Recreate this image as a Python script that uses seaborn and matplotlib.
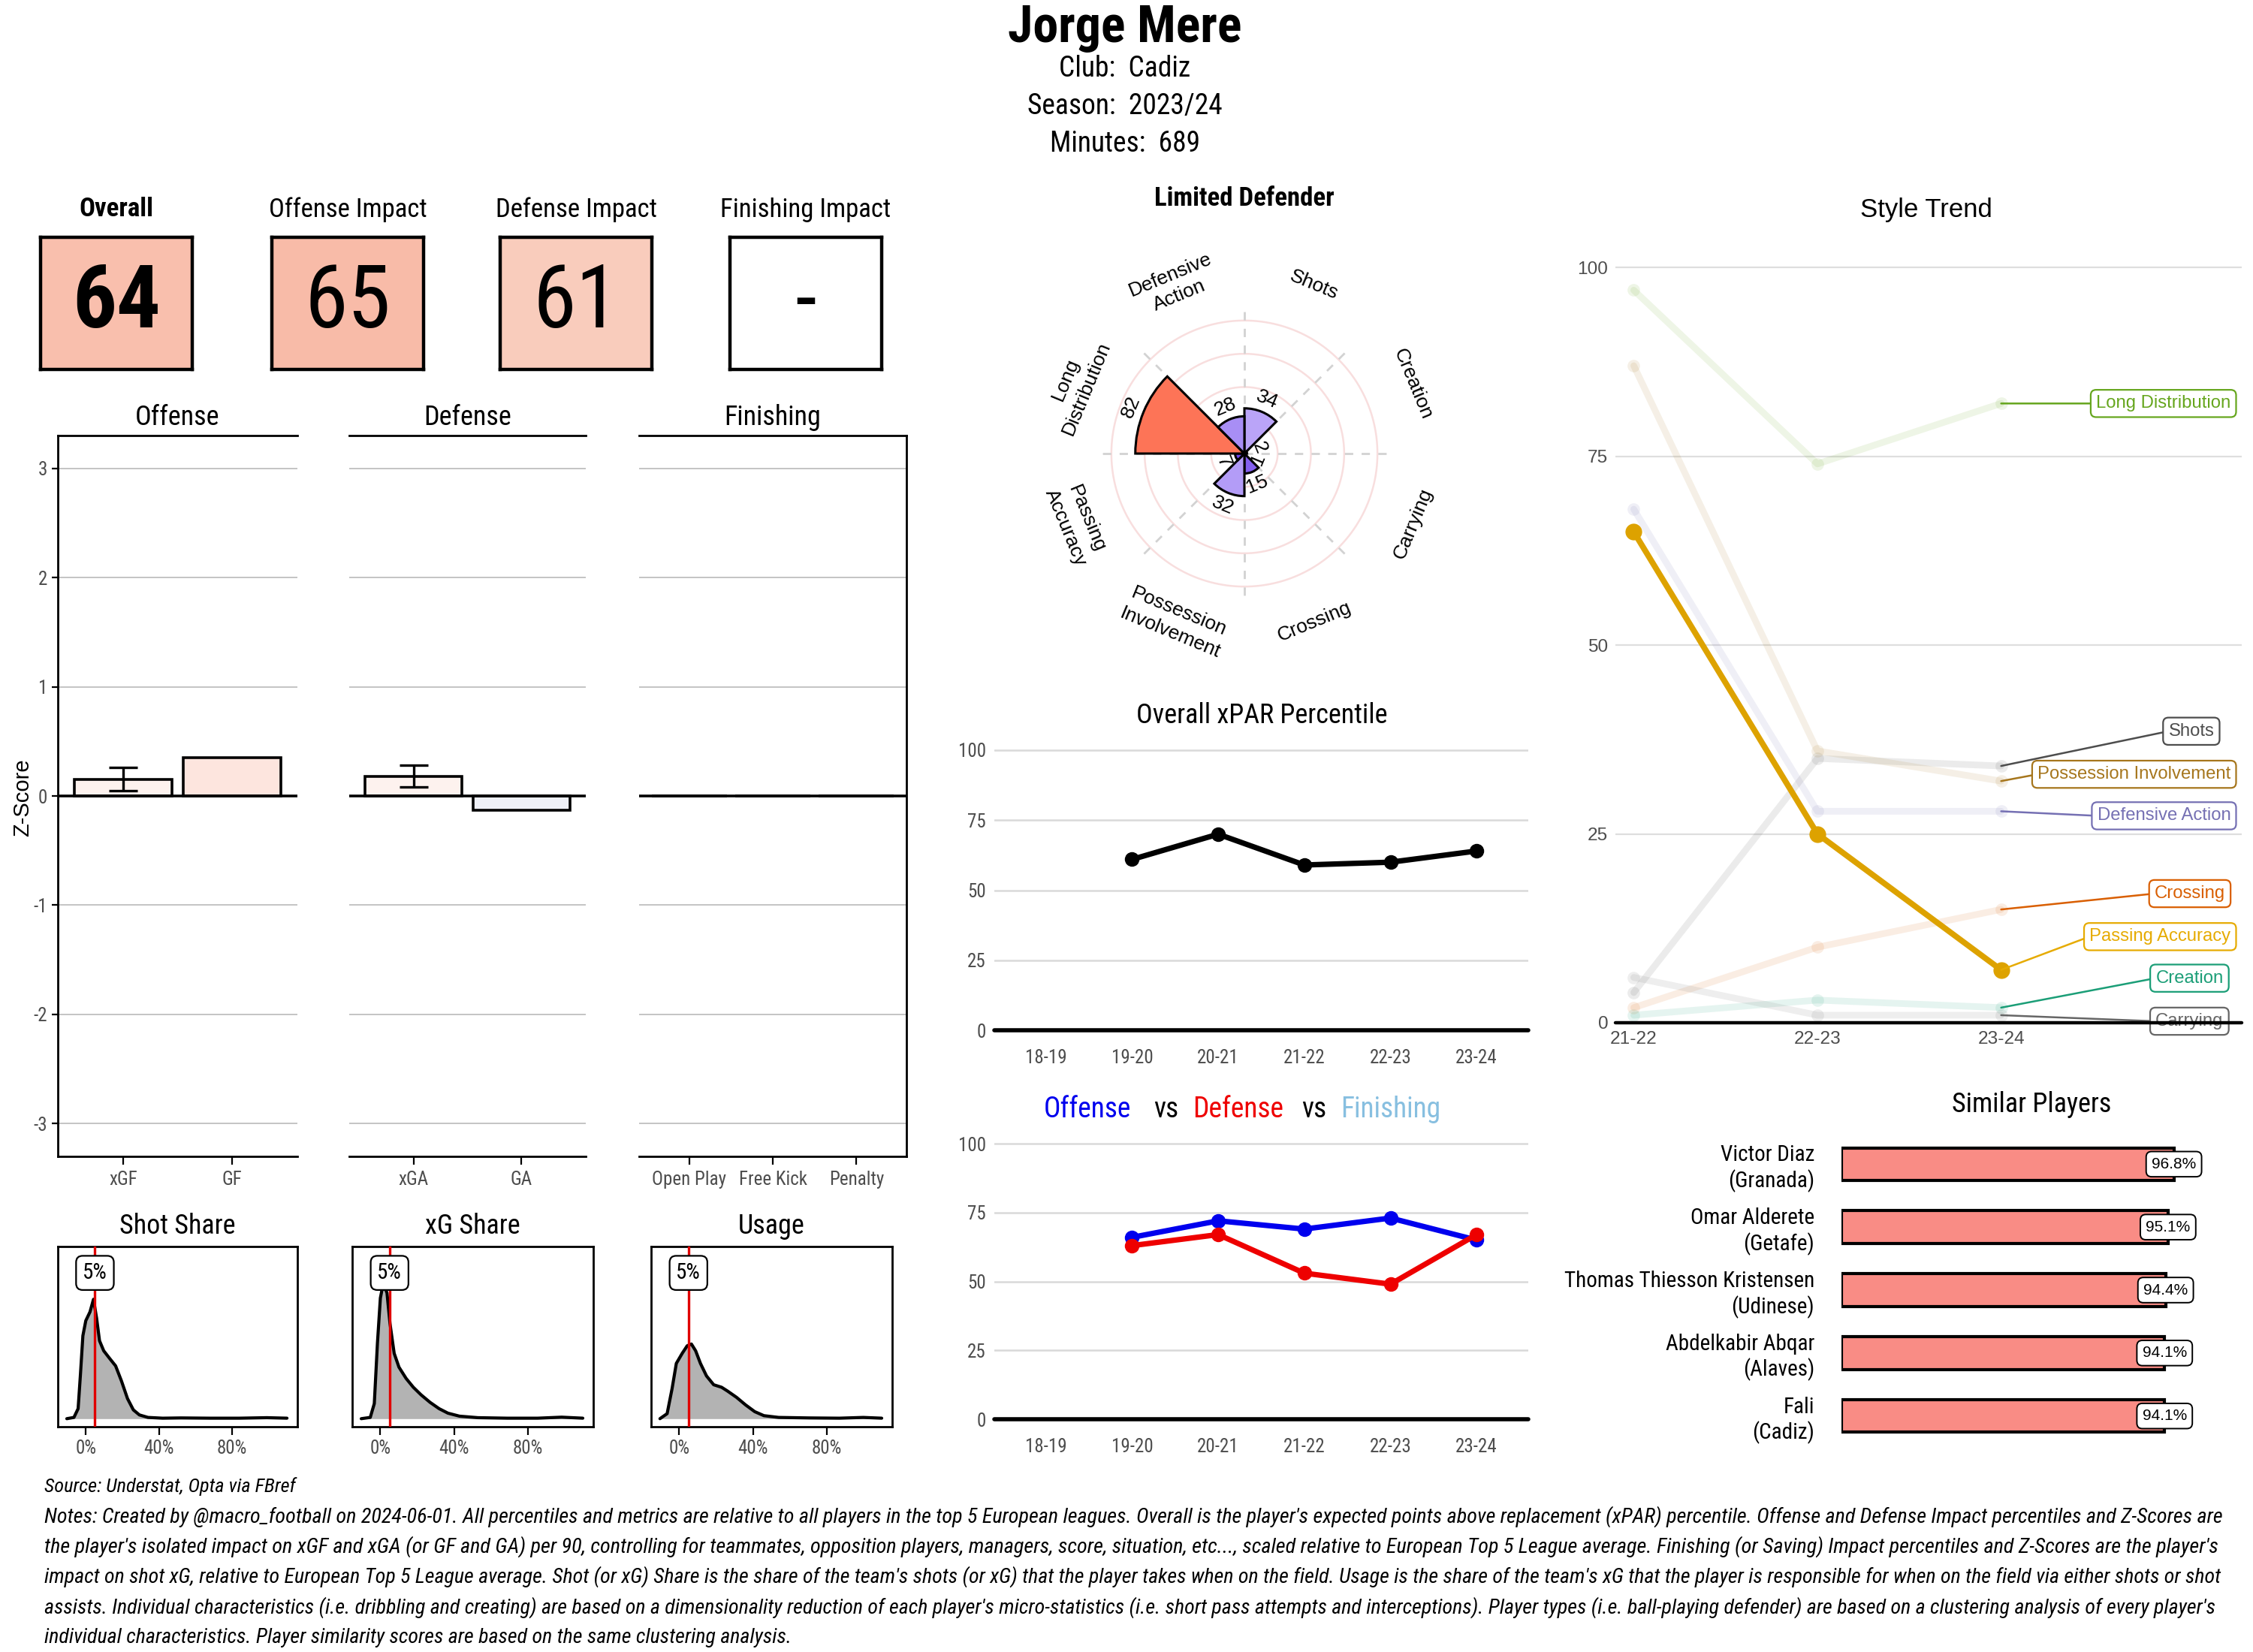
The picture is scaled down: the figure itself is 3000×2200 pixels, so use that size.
import numpy as np
import pandas as pd
import matplotlib
matplotlib.use('Agg')
import matplotlib.pyplot as plt
from matplotlib import font_manager as fm
from matplotlib.colors import LinearSegmentedColormap
import seaborn as sns

# ---------------- data ----------------
player = 'Jorge Mere'
club = 'Cadiz'
season = '2023/24'
minutes = 689

kpi_titles = ['Overall', 'Offense Impact', 'Defense Impact', 'Finishing Impact']
kpi_values = ['64', '65', '61', '-']

off_metrics = ['xGF', 'GF']
off_z = [0.15, 0.35]
off_lo = [0.05, np.nan]
off_hi = [0.26, np.nan]
def_metrics = ['xGA', 'GA']
def_z = [0.18, -0.13]
def_lo = [0.08, np.nan]
def_hi = [0.28, np.nan]
fin_metrics = ['Open Play', 'Free Kick', 'Penalty']
fin_z = [0.0, 0.0, 0.0]

# density curves (x in %, height in arbitrary units)
shot_x = [-10.4, -6.5, -4.2, -2.9, -1.6, 0, 2.3, 4.2, 5.9, 7.5, 9.8, 13, 16.3, 19.5, 22.8, 26,
          29.3, 34, 42, 52, 68, 84, 99, 110]
shot_d = [0, 5, 40, 180, 330, 390, 425, 475, 400, 310, 270, 240, 210, 150, 80, 35,
          15, 5, 2, 3, 2, 2, 4, 2]
xg_x = [-10.4, -5.5, -3.3, -1.6, 0, 1.6, 3.6, 5.2, 7.5, 10.1, 14, 17.9, 22.1, 27, 31.9, 36.7,
        43, 53, 69, 85.5, 98.5, 110]
xg_d = [0, 5, 60, 300, 480, 540, 500, 380, 260, 205, 160, 125, 95, 65, 40, 22,
        10, 4, 2, 2, 6, 2]
usage_x = [-10.5, -6.6, -3.9, -1.6, 1.6, 4.3, 6.6, 8.9, 11.5, 14.8, 18.7, 23, 26.2, 31.1, 36,
           41, 46, 54, 70.5, 87, 100, 110]
usage_d = [0, 20, 120, 220, 260, 290, 297, 270, 220, 170, 135, 125, 110, 85, 55,
           28, 12, 5, 3, 2, 5, 2]
share_titles = ['Shot Share', 'xG Share', 'Usage']
player_shares = [5, 5, 5]

player_type = 'Limited Defender'
radar_cats = ['Shots', 'Creation', 'Carrying', 'Crossing', 'Possession\nInvolvement',
              'Passing\nAccuracy', 'Long\nDistribution', 'Defensive\nAction']
radar_pct = [34, 2, 1, 15, 32, 7, 82, 28]

seasons = ['18-19', '19-20', '20-21', '21-22', '22-23', '23-24']
xpar = [np.nan, 61, 70, 59, 60, 64]
off_pct = [np.nan, 66, 72, 69, 73, 65]
def_pct = [np.nan, 63, 67, 53, 49, 67]

trend_seasons = ['21-22', '22-23', '23-24']
trend_cats = ['Long Distribution', 'Shots', 'Possession Involvement', 'Defensive Action',
              'Crossing', 'Passing Accuracy', 'Creation', 'Carrying']
long_dist = [97, 74, 82]
shots = [4, 35, 34]
poss_inv = [87, 36, 32]
def_action = [68, 28, 28]
crossing = [2, 10, 15]
pass_acc = [65, 25, 7]
creation = [1, 3, 2]
carrying = [6, 1, 1]
highlight = 'Passing Accuracy'

sim_names = ['Victor Diaz', 'Omar Alderete', 'Thomas Thiesson Kristensen', 'Abdelkabir Abqar', 'Fali']
sim_clubs = ['Granada', 'Getafe', 'Udinese', 'Alaves', 'Cadiz']
sim_score = [96.8, 95.1, 94.4, 94.1, 94.1]

notes = [
    "Notes: Created by @macro_football on 2024-06-01. All percentiles and metrics are relative to all players in the top 5 European leagues. Overall is the player's expected points above replacement (xPAR) percentile. Offense and Defense Impact percentiles and Z-Scores are",
    "the player's isolated impact on xGF and xGA (or GF and GA) per 90, controlling for teammates, opposition players, managers, score, situation, etc..., scaled relative to European Top 5 League average. Finishing (or Saving) Impact percentiles and Z-Scores are the player's",
    "impact on shot xG, relative to European Top 5 League average. Shot (or xG) Share is the share of the team's shots (or xG) that the player takes when on the field. Usage is the share of the team's xG that the player is responsible for when on the field via either shots or shot",
    "assists. Individual characteristics (i.e. dribbling and creating) are based on a dimensionality reduction of each player's micro-statistics (i.e. short pass attempts and interceptions). Player types (i.e. ball-playing defender) are based on a clustering analysis of every player's",
    "individual characteristics. Player similarity scores are based on the same clustering analysis.",
]

# ---------------- styles ----------------
kpi_colors = ['#f9bfad', '#f8bba8', '#f9ccbc', '#ffffff']
off_colors = ['#fdf2ee', '#fde5de']
def_colors = ['#fdf2ee', '#eef0f7']
fin_colors = ['#ffffff'] * 3
trend_colors = {'Long Distribution': '#66A61E', 'Shots': '#4d4d4d', 'Possession Involvement': '#A6761D',
                'Defensive Action': '#7570B3', 'Crossing': '#D95F02', 'Passing Accuracy': '#E6AB02',
                'Creation': '#1B9E77', 'Carrying': '#666666'}
radar_cmap = LinearSegmentedColormap.from_list(
    'rad', [(0, '#5a2be8'), (0.5, '#e6ddff'), (0.7, '#fb9a85'), (1, '#ff3b12')])

sns.set_theme(style='white')
names = {f.name for f in fm.fontManager.ttflist}
COND = [n for n in ('Roboto Condensed', 'Liberation Sans Narrow') if n in names] + ['Roboto', 'DejaVu Sans']
ARIAL = ['Liberation Sans', 'DejaVu Sans']
plt.rcParams['font.family'] = COND
plt.rcParams['text.color'] = 'black'
plt.rcParams['axes.labelcolor'] = 'black'
plt.rcParams['axes.titlecolor'] = 'black'
plt.rcParams['axes.unicode_minus'] = False
GREY = '#4d4d4d'

W, H = 3000, 2200
fig = plt.figure(figsize=(15, 11), dpi=200)


def add_ax(x0, y0, x1, y1, **kw):
    return fig.add_axes([x0 / W, 1 - y1 / H, (x1 - x0) / W, (y1 - y0) / H], **kw)


def ftext(x, y, s, **kw):
    kw.setdefault('ha', 'center')
    kw.setdefault('va', 'center')
    kw.setdefault('color', 'black')
    return fig.text(x / W, 1 - y / H, s, **kw)


# ---------------- header ----------------
ftext(1498, 38, player, fontsize=24.5, fontweight='bold')
ftext(1498, 92, f'Club:  {club}', fontsize=13.5)
ftext(1498, 142, f'Season:  {season}', fontsize=13.5)
ftext(1498, 192, f'Minutes:  {minutes}', fontsize=13.5)

# ---------------- KPI boxes ----------------
for i, (xc, t, v) in enumerate(zip([155, 463, 767, 1073], kpi_titles, kpi_values)):
    ftext(xc, 279, t, fontsize=12.5, fontweight='bold' if i == 0 else 'normal')
    ax = add_ax(xc - 101, 316, xc + 101, 492)
    ax.set_facecolor(kpi_colors[i])
    ax.set_xticks([]); ax.set_yticks([])
    for s in ax.spines.values():
        s.set_color('black'); s.set_linewidth(1.6)
    ax.text(0.5, 0.5, v, transform=ax.transAxes, ha='center', va='center', fontsize=42, color='black',
            fontweight='bold' if i == 0 else 'normal')

# ---------------- Z-score panels ----------------
zpanels = [('Offense', 77, 396, off_metrics, off_z, off_lo, off_hi, off_colors),
           ('Defense', 465, 780, def_metrics, def_z, def_lo, def_hi, def_colors),
           ('Finishing', 851, 1207, fin_metrics, fin_z, None, None, fin_colors)]
for k, (name, x0, x1, mets, zs, lo, hi, cols) in enumerate(zpanels):
    ax = add_ax(x0, 580, x1, 1540)
    df = pd.DataFrame({'metric': mets, 'z': zs})
    sns.barplot(data=df, x='metric', y='z', hue='metric', palette=cols, saturation=1,
                edgecolor='black', linewidth=1.3, width=0.9, legend=False, ax=ax, zorder=2)
    if lo is not None:
        for j in range(len(mets)):
            if not np.isnan(lo[j]):
                mid = (lo[j] + hi[j]) / 2
                ax.errorbar(j, mid, yerr=[[mid - lo[j]], [hi[j] - mid]], fmt='none', ecolor='black',
                            elinewidth=1.2, capsize=7, capthick=1.2, zorder=4)
    ax.set_ylim(-3.3, 3.3)
    ax.set_xlim(-0.6, len(mets) - 0.4)
    for t in [-3, -2, -1, 1, 2, 3]:
        ax.axhline(t, color='#c4c4c4', lw=0.7, zorder=0)
    ax.axhline(0, color='black', lw=1.3, zorder=3)
    for s in ax.spines.values():
        s.set_color('black'); s.set_linewidth(1.0)
    ax.spines['left'].set_visible(k == 0)
    ax.spines['right'].set_visible(k == 2)
    ax.set_xlabel(''); ax.set_ylabel('')
    ax.tick_params(axis='x', bottom=True, length=4, width=0.8, color='black', labelsize=9, labelcolor=GREY, pad=3)
    if k == 0:
        ax.set_yticks([-3, -2, -1, 0, 1, 2, 3])
        ax.tick_params(axis='y', left=True, length=3, width=0.8, color='black', labelsize=9, labelcolor=GREY, pad=2)
    else:
        ax.set_yticks([])
    ax.set_title(name, fontsize=13, pad=5, color='black')
ftext(30, 1062, 'Z-Score', rotation=90, fontsize=10.5, family=ARIAL)

# ---------------- share densities ----------------
dens = [(77, 396, shot_x, shot_d), (469, 790, xg_x, xg_d), (867, 1188, usage_x, usage_d)]
for (x0, x1, xs, ds), title, share in zip(dens, share_titles, player_shares):
    ax = add_ax(x0, 1660, x1, 1900)
    xv = np.array(xs) / 100
    dv = np.array(ds) / 100
    ax.fill_between(xv, dv, color='#b3b3b3', lw=0, zorder=1)
    sns.lineplot(x=xv, y=dv, color='black', lw=1.5, sort=False, ax=ax, zorder=2)
    ax.axvline(share / 100, color='#e00000', lw=1.2, zorder=3)
    ax.text(share / 100, 5.8, f'{share}%', ha='center', va='center', fontsize=10.5, zorder=4, color='black',
            bbox=dict(boxstyle='round,pad=0.3', fc='white', ec='black', lw=0.8))
    ax.set_xlim(-0.153, 1.157)
    ax.set_ylim(-0.32, 6.85)
    ax.set_xticks([0, 0.4, 0.8])
    ax.set_xticklabels(['0%', '40%', '80%'])
    ax.set_yticks([])
    ax.tick_params(axis='x', bottom=True, length=4, width=0.8, color='black', labelsize=9, labelcolor=GREY, pad=2)
    for s in ax.spines.values():
        s.set_color('black'); s.set_linewidth(1.0)
    ax.set_title(title, fontsize=13, pad=6, color='black')

# ---------------- radar ----------------
ftext(1657, 264, player_type, fontsize=12.5, fontweight='bold')
pax = fig.add_axes([1409 / W, 1 - 852 / H, 496 / W, 496 / H], projection='polar')
pax.set_theta_zero_location('N')
pax.set_theta_direction(-1)
pax.set_ylim(0, 140)
pax.axis('off')
th_full = np.linspace(0, 2 * np.pi, 400)
for r in [25, 50, 75, 100]:
    pax.plot(th_full, np.full_like(th_full, r), color='#f8dede', lw=0.9, zorder=0)
for k in range(8):
    th = k * np.pi / 4
    pax.plot([th, th], [0, 110], color='#d2d2d2', lw=1.0, ls=(0, (4, 4)), zorder=0)
centers = (np.arange(len(radar_pct)) + 0.5) * 2 * np.pi / len(radar_pct)
pax.bar(centers, radar_pct, width=2 * np.pi / len(radar_pct),
        color=[radar_cmap(v / 100) for v in radar_pct], edgecolor='black', lw=1.1, zorder=2)


def tang(deg):
    return (-deg + 90) % 180 - 90


for c, v, lab in zip(centers, radar_pct, radar_cats):
    d = np.degrees(c)
    pax.text(c, v + 10, str(v), rotation=tang(d), rotation_mode='anchor', ha='center', va='center',
             fontsize=9.5, family=ARIAL, color='black', zorder=5)
    pax.text(c, 137, lab, rotation=tang(d), rotation_mode='anchor', ha='center', va='center',
             multialignment='center', fontsize=9.5, family=ARIAL, color='black', linespacing=1.35,
             clip_on=False)


# ---------------- season percentile lines ----------------
def season_axes(y_top, y_zero, y_hundred):
    ax = add_ax(1324, y_top, 2035, y_zero)
    ax.set_ylim(0, 100 + (y_hundred - y_top) / ((y_zero - y_hundred) / 100))
    ax.set_xlim(-0.6, len(seasons) - 0.4)
    for t in [25, 50, 75, 100]:
        ax.axhline(t, color='#d9d9d9', lw=0.9, zorder=0)
    ax.axhline(0, color='black', lw=2.0, zorder=1, clip_on=False)
    ax.set_xticks(range(len(seasons)))
    ax.set_xticklabels(seasons)
    ax.set_yticks([0, 25, 50, 75, 100])
    ax.tick_params(axis='both', length=0, labelsize=9, labelcolor=GREY)
    ax.tick_params(axis='x', pad=9)
    ax.tick_params(axis='y', pad=4)
    sns.despine(ax=ax, left=True, bottom=True)
    return ax


pos = np.arange(len(seasons))
ax = season_axes(980, 1372, 999)
sns.lineplot(x=pos, y=xpar, color='black', lw=2.6, marker='o', markersize=7, markeredgewidth=0, ax=ax)
ax.set_xlim(-0.6, len(seasons) - 0.4)
ftext(1680, 953, 'Overall xPAR Percentile', fontsize=13)

ax = season_axes(1505, 1890, 1523)
sns.lineplot(x=pos, y=off_pct, color='#0000ee', lw=2.6, marker='o', markersize=7, markeredgewidth=0, ax=ax)
sns.lineplot(x=pos, y=def_pct, color='#ee0000', lw=2.6, marker='o', markersize=7, markeredgewidth=0, ax=ax)
ax.set_xlim(-0.6, len(seasons) - 0.4)
for xw, word, col in [(1448, 'Offense', '#0000ee'), (1553, 'vs', 'black'), (1649, 'Defense', '#ee0000'),
                      (1750, 'vs', 'black'), (1852, 'Finishing', '#87bfe0')]:
    ftext(xw, 1477, word, fontsize=13.5, color=col)

# ---------------- style trend ----------------
trend_vals = [long_dist, shots, poss_inv, def_action, crossing, pass_acc, creation, carrying]
label_y = [82, 38.6, 32.9, 27.4, 17.1, 11.4, 5.9, 0.2]
label_xr = [3.25, 3.16, 3.25, 3.25, 3.22, 3.25, 3.21, 3.21]
tx = np.arange(len(trend_seasons))
ax = add_ax(2151, 306, 2985, 1362)
for cat, vals in zip(trend_cats, trend_vals):
    if cat == highlight:
        continue
    sns.lineplot(x=tx, y=vals, color=trend_colors[cat], alpha=0.11, lw=3.2, marker='o', markersize=6,
                 markeredgewidth=0, ax=ax, zorder=2)
sns.lineplot(x=tx, y=trend_vals[trend_cats.index(highlight)], color='#dda200', lw=2.8, marker='o',
             markersize=8, markeredgewidth=0, ax=ax, zorder=3)
for cat, vals, ly, lx in zip(trend_cats, trend_vals, label_y, label_xr):
    c = trend_colors[cat]
    ax.annotate(cat, xy=(tx[-1], vals[-1]), xytext=(lx, ly), ha='right', va='center', fontsize=8.6,
                family=ARIAL, color=c, zorder=4, annotation_clip=False,
                bbox=dict(boxstyle='round,pad=0.3,rounding_size=0.3', fc='white', ec=c, lw=0.8),
                arrowprops=dict(arrowstyle='-', color=c, lw=0.9, shrinkA=0, shrinkB=0, relpos=(0, 0.5)))
ax.set_xlim(-0.1, 3.31)
ax.set_ylim(0, 105)
for t in [25, 50, 75, 100]:
    ax.axhline(t, color='#dedede', lw=0.8, zorder=0)
ax.axhline(0, color='black', lw=1.6, zorder=6, clip_on=False)
ax.set_xticks(tx)
ax.set_xticklabels(trend_seasons, family=ARIAL)
ax.set_yticks([0, 25, 50, 75, 100])
ax.set_yticklabels(['0', '25', '50', '75', '100'], family=ARIAL)
ax.tick_params(axis='both', length=0, labelsize=8.8, labelcolor=GREY)
ax.tick_params(axis='x', pad=4)
sns.despine(ax=ax, left=True, bottom=True)
ftext(2565, 279, 'Style Trend', fontsize=12.5, family=ARIAL)

# ---------------- similar players ----------------
ax = add_ax(2452, 1500, 2955, 1936)
sim_labels = [f'{n}\n({c})' for n, c in zip(sim_names, sim_clubs)]
sns.barplot(x=sim_score, y=sim_labels, orient='h', color='#f98c85', saturation=1, edgecolor='black',
            linewidth=1.5, width=0.52, ax=ax)
for i, v in enumerate(sim_score):
    ax.text(v, i, f'{v}%', ha='center', va='center', fontsize=7.5, family=ARIAL, color='black',
            bbox=dict(boxstyle='round,pad=0.35', fc='white', ec='black', lw=0.7))
ax.set_xlim(0, 110)
ax.set_ylim(len(sim_score) - 0.4, -0.6)
ax.set_xticks([])
ax.tick_params(axis='y', length=0, labelsize=10.5, pad=13, labelcolor='black')
ax.set_xlabel(''); ax.set_ylabel('')
sns.despine(ax=ax, left=True, bottom=True)
ftext(2705, 1471, 'Similar Players', fontsize=13)

# ---------------- footer ----------------
ftext(59, 1980, 'Source: Understat, Opta via FBref', ha='left', fontsize=9.5, style='italic')
note_texts = [ftext(59, y, s, ha='left', fontsize=9, style='italic')
              for y, s in zip([2020, 2060, 2100, 2141, 2181], notes)]
fig.canvas.draw()
rend = fig.canvas.get_renderer()
for t in note_texts[:4]:
    w = t.get_window_extent(rend).width
    t.set_fontsize(t.get_fontsize() * 2902 / w)
note_texts[4].set_fontsize(note_texts[3].get_fontsize())

fig.savefig('out.png', dpi=200)
